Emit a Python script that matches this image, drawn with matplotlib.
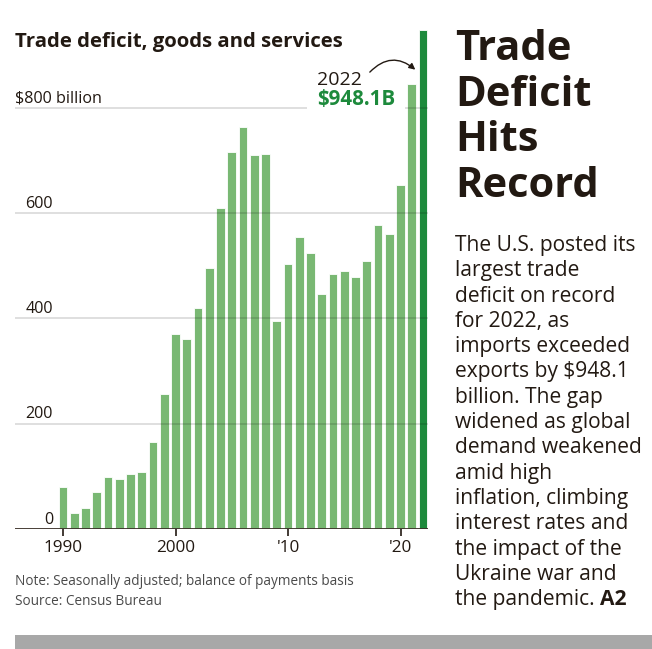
import numpy as np
import matplotlib.pyplot as plt
from matplotlib.patches import FancyArrowPatch, Rectangle

plt.rcParams['font.family'] = ['Open Sans', 'DejaVu Sans']

# annual trade deficit, goods and services, billions of dollars
years = np.arange(1990, 2023)
deficit = [80.4, 31.0, 39.3, 69.7, 98.2, 95.6, 104.0, 108.0, 166.0, 256.0,
           370.0, 360.0, 420.0, 496.0, 610.0, 716.0, 763.0, 710.0, 712.0, 395.0,
           503.0, 555.0, 525.0, 447.0, 484.0, 490.0, 479.0, 510.0, 578.0, 560.0,
           654.0, 845.0, 948.1]
grid_vals = [200, 400, 600]
ytick_labels = ['0', '200', '400', '600']
xtick_years = [1990, 2000, 2010, 2020]
xtick_labels = ['1990', '2000', "'10", "'20"]

headline = ['Trade', 'Deficit', 'Hits', 'Record']
body = ['The U.S. posted its', 'largest trade', 'deficit on record',
        'for 2022, as', 'imports exceeded', 'exports by $948.1',
        'billion. The gap', 'widened as global', 'demand weakened',
        'amid high', 'inflation, climbing', 'interest rates and',
        'the impact of the', 'Ukraine war and', 'the pandemic.']

light_green = '#79b873'
dark_green = '#1d8a3c'
ink = '#221912'
W, H = 652, 649

fig = plt.figure(figsize=(6.52, 6.49), dpi=100)
ax = fig.add_axes([15 / W, 1 - 529 / H, 413 / W, (529 - 23.6) / H])

colors = [light_green] * (len(years) - 1) + [dark_green]
ax.bar(years, deficit, width=0.78, color=colors, edgecolor='white',
       linewidth=0.6, zorder=2)

x0, x1 = 1985.73, 2022.44
ax.set_xlim(x0, x1)
ax.set_ylim(0, 960)
for s in ax.spines.values():
    s.set_visible(False)
ax.set_yticks([])
ax.set_xticks(xtick_years)
ax.set_xticklabels(xtick_labels, fontsize=12.3, color=ink)
ax.tick_params(axis='x', length=5, width=1.2, color=ink, pad=3)

# gridlines over the bars, then the baseline
grid_kw = dict(color='black', alpha=0.16, linewidth=1.1, zorder=3)
for v in grid_vals:
    ax.axhline(v, **grid_kw)
# the $800 line breaks around the 2022 callout
ax.hlines(800, x0, 2011.7, **grid_kw)
ax.hlines(800, 2020.4, x1, **grid_kw)
ax.axhline(0, color='#3a3029', linewidth=1.3, zorder=4)

# y labels sit just above the gridlines
lab_x = (53 - 15) / 413
for v, lab in zip([0] + grid_vals, ytick_labels):
    ax.text(lab_x, v + 10, lab, transform=ax.get_yaxis_transform(),
            ha='right', va='baseline', fontsize=11.6, color=ink, zorder=5)
ax.text(0, 810, '$800 billion', transform=ax.get_yaxis_transform(),
        ha='left', va='baseline', fontsize=11.6, color=ink, zorder=5)

# callout for the record year
ax.text(2012.6, 843, '2022', ha='left', va='baseline', fontsize=14, color=ink,
        zorder=6)
ax.text(2012.6, 806, '$948.1B', ha='left', va='baseline', fontsize=14.8,
        fontweight='bold', color=dark_green, zorder=6)
ax.add_patch(FancyArrowPatch((2017.1, 864), (2021.5, 869),
                             connectionstyle='arc3,rad=-0.5',
                             arrowstyle='-|>', mutation_scale=9,
                             color=ink, linewidth=1, zorder=6))

fig.text(15 / W, 1 - 47 / H, 'Trade deficit, goods and services',
         fontsize=14.7, fontweight='bold', color=ink, ha='left', va='baseline')

fig.text(15 / W, 1 - 585 / H, 'Note: Seasonally adjusted; balance of payments basis',
         fontsize=9.8, color='#4a4a4a', ha='left', va='baseline')
fig.text(15 / W, 1 - 605 / H, 'Source: Census Bureau',
         fontsize=9.8, color='#4a4a4a', ha='left', va='baseline')

# headline and summary on the right
for i, line in enumerate(headline):
    fig.text(455 / W, 1 - (60 + i * 45.6) / H, line, fontsize=30,
             fontweight='bold', color=ink, ha='left', va='baseline')
for i, line in enumerate(body):
    t = fig.text(455 / W, 1 - (251 + i * 25.3) / H, line, fontsize=15.1,
                 color=ink, ha='left', va='baseline')
last = t
fig.canvas.draw()
bb = last.get_window_extent()
fig.text(bb.x1 / W + 5 / W, 1 - (251 + 14 * 25.3) / H, 'A2', fontsize=15.1,
         fontweight='bold', color=ink, ha='left', va='baseline')

fig.add_artist(Rectangle((15 / W, 0), 1 - 15 / W, 14 / H,
                         transform=fig.transFigure, facecolor='#a8a8a8',
                         edgecolor='none'))

fig.savefig('out.png', dpi=100)
